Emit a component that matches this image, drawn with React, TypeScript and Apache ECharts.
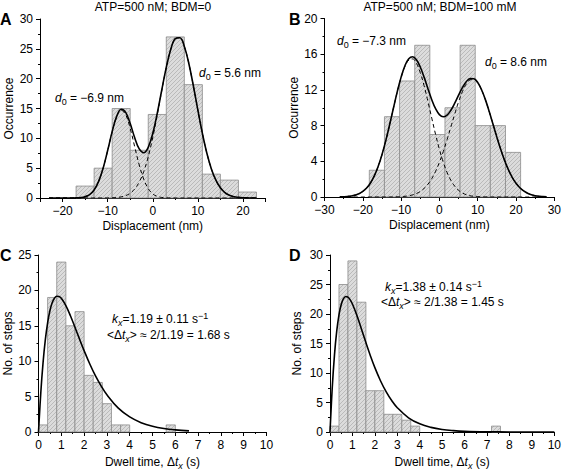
import React, { useEffect, useRef } from 'react';
import * as echarts from 'echarts';

const FONT = '"Liberation Sans", Arial, Helvetica, sans-serif';

// ---------- Panel A data ----------
const aEdges = [-17, -13, -9, -5, -1, 3, 7, 11, 15, 19, 23];
const aCounts = [2, 5, 15, 8, 14, 27, 19, 4, 3, 1];
const aFitX = [-23, -20, -18, -17, -16, -15, -14, -13, -12, -11, -10, -9, -8, -7, -6, -5, -4, -3, -2, -1, 0, 1, 2, 3, 4, 5, 6, 7, 8, 9, 10, 11, 12, 13, 14, 15, 16, 17, 18, 19, 20, 21, 23];
const aFit1 = [0, 0, 0.01, 0.02, 0.07, 0.22, 0.58, 1.35, 2.78, 5.0, 7.94, 11.08, 13.6, 14.69, 13.96, 11.66, 8.58, 5.54, 3.15, 1.58, 0.69, 0.27, 0.09, 0.03, 0.01, 0, 0, 0, 0, 0, 0, 0, 0, 0, 0, 0, 0, 0, 0, 0, 0, 0, 0];
const aFit2 = [0, 0, 0, 0, 0, 0, 0, 0, 0, 0.01, 0.01, 0.04, 0.08, 0.19, 0.4, 0.81, 1.52, 2.68, 4.44, 6.92, 10.13, 13.94, 18.01, 21.86, 24.92, 26.7, 26.87, 25.4, 22.55, 18.81, 14.74, 10.85, 7.5, 4.88, 2.98, 1.71, 0.92, 0.47, 0.22, 0.1, 0.04, 0.02, 0];
const aFitSum = [0, 0, 0.01, 0.02, 0.07, 0.22, 0.58, 1.35, 2.78, 5.01, 7.95, 11.12, 13.68, 14.88, 14.36, 12.47, 10.1, 8.22, 7.59, 8.5, 10.82, 14.21, 18.1, 21.89, 24.93, 26.7, 26.87, 25.4, 22.55, 18.81, 14.74, 10.85, 7.5, 4.88, 2.98, 1.71, 0.92, 0.47, 0.22, 0.1, 0.04, 0.02, 0];

// ---------- Panel B data ----------
const bEdges = [-18.3, -14.35, -10.4, -6.45, -2.5, 1.45, 5.4, 9.35, 13.3, 17.25, 21.2];
const bCounts = [3, 9, 13, 17, 7, 10, 17, 8, 8, 5];
const bFitX = [-26, -25, -24, -23, -22, -21, -20, -19, -18, -17, -16, -15, -14, -13, -12, -11, -10, -9, -8, -7, -6, -5, -4, -3, -2, -1, 0, 1, 2, 3, 4, 5, 6, 7, 8, 9, 10, 11, 12, 13, 14, 15, 16, 17, 18, 19, 20, 21, 22, 23, 24, 25, 26, 27, 28];
const bFit1 = [0.01, 0.03, 0.06, 0.11, 0.21, 0.36, 0.62, 1.0, 1.57, 2.36, 3.41, 4.74, 6.32, 8.09, 9.96, 11.79, 13.39, 14.63, 15.35, 15.47, 14.99, 13.94, 12.47, 10.71, 8.84, 7.01, 5.34, 3.91, 2.75, 1.86, 1.21, 0.75, 0.45, 0.26, 0.14, 0.08, 0.04, 0.02, 0.01, 0, 0, 0, 0, 0, 0, 0, 0, 0, 0, 0, 0, 0, 0, 0, 0];
const bFit2 = [0, 0, 0, 0, 0, 0, 0, 0, 0, 0, 0, 0, 0, 0, 0.01, 0.02, 0.04, 0.08, 0.14, 0.24, 0.39, 0.62, 0.96, 1.43, 2.06, 2.88, 3.89, 5.08, 6.43, 7.86, 9.3, 10.66, 11.8, 12.65, 13.12, 13.17, 12.78, 12.0, 10.9, 9.58, 8.15, 6.71, 5.34, 4.11, 3.06, 2.21, 1.54, 1.04, 0.68, 0.43, 0.26, 0.15, 0.09, 0.05, 0.03];
const bFitSum = [0.01, 0.03, 0.06, 0.11, 0.21, 0.36, 0.62, 1.0, 1.57, 2.36, 3.41, 4.74, 6.32, 8.09, 9.97, 11.81, 13.43, 14.71, 15.49, 15.71, 15.38, 14.56, 13.43, 12.14, 10.9, 9.89, 9.23, 8.99, 9.18, 9.72, 10.51, 11.41, 12.25, 12.91, 13.26, 13.25, 12.82, 12.02, 10.91, 9.58, 8.15, 6.71, 5.34, 4.11, 3.06, 2.21, 1.54, 1.04, 0.68, 0.43, 0.26, 0.15, 0.09, 0.05, 0.03];

// ---------- Panel C data ----------
const cEdges = [0, 0.4, 0.8, 1.2, 1.6, 2.0, 2.4, 2.8, 3.2, 3.6, 4.0, 4.4, 4.8, 5.2, 5.6, 6.0];
const cCounts = [1, 19, 24, 15, 17, 8, 7, 4, 1, 1, 0, 0, 0, 0, 1];
const cFitX = [0, 0.1, 0.2, 0.3, 0.4, 0.5, 0.6, 0.7, 0.8, 0.9, 1.0, 1.2, 1.4, 1.6, 1.8, 2.0, 2.25, 2.5, 2.75, 3.0, 3.5, 4.0, 4.5, 5.0, 5.5, 6.0, 6.6];
const cFitY = [0, 5.51, 9.79, 13.04, 15.43, 17.13, 18.26, 18.9, 19.18, 19.15, 18.88, 17.86, 16.42, 14.8, 13.12, 11.5, 9.6, 7.92, 6.49, 5.25, 3.37, 2.13, 1.32, 0.81, 0.49, 0.3, 0.16];

// ---------- Panel D data ----------
const dEdges = [0, 0.4, 0.8, 1.2, 1.6, 2.0, 2.4, 2.8, 3.2, 3.6, 4.0, 4.4, 4.8, 5.2, 5.6, 6.0, 6.4, 6.8, 7.2, 7.6];
const dCounts = [1, 25, 29, 22, 7, 7, 3, 3, 2, 1, 0, 0, 0, 0, 0, 0, 0, 0, 1];
const dFitX = [0, 0.1, 0.2, 0.3, 0.4, 0.5, 0.6, 0.7, 0.8, 0.9, 1.0, 1.2, 1.4, 1.6, 1.8, 2.0, 2.25, 2.5, 2.75, 3.0, 3.5, 4.0, 4.5, 5.0, 5.5, 6.0, 7.0, 8.0, 9.0, 10.0];
const dFitY = [0, 7.51, 13.08, 17.09, 19.86, 21.62, 22.6, 22.97, 22.87, 22.4, 21.69, 19.74, 17.47, 15.15, 12.94, 10.91, 8.69, 6.84, 5.33, 4.12, 2.41, 1.38, 0.78, 0.43, 0.24, 0.13, 0.04, 0.01, 0, 0];

// ---------- texts ----------
const titleA = 'ATP=500 nM; BDM=0';
const titleB = 'ATP=500 nM; BDM=100 mM';
const panelLabels = ['A', 'B', 'C', 'D'];

const zip = (xs: number[], ys: number[]) => xs.map((x, i) => [x, ys[i]]);
const bins = (edges: number[], counts: number[]) => counts.map((c, i) => [edges[i], edges[i + 1], c]);

const minus = (v: number) => (v < 0 ? '\u2212' + Math.abs(v) : String(v));

function renderHatchBar(params: any, api: any) {
  const y = api.value(2);
  if (!y) return null;
  const p0 = api.coord([api.value(0), y]);
  const p1 = api.coord([api.value(1), 0]);
  const x0 = p0[0], y0 = p0[1], x1 = p1[0], y1 = p1[1];
  const children: any[] = [
    { type: 'rect', shape: { x: x0, y: y0, width: x1 - x0, height: y1 - y0 }, style: { fill: '#dcdcdc' } },
  ];
  const step = 4;
  for (let c = Math.ceil((x0 + y0) / step) * step; c < x1 + y1; c += step) {
    const xa = Math.max(x0, c - y1);
    const xb = Math.min(x1, c - y0);
    if (xb > xa) {
      children.push({ type: 'line', shape: { x1: xa, y1: c - xa, x2: xb, y2: c - xb }, style: { stroke: '#ababab', lineWidth: 0.7 } });
    }
  }
  children.push({ type: 'rect', shape: { x: x0, y: y0, width: x1 - x0, height: y1 - y0 }, style: { fill: 'none', stroke: '#8c8c8c', lineWidth: 0.8 } });
  return { type: 'group', children };
}

const axisCommon = {
  type: 'value',
  axisLine: { show: true, onZero: false, lineStyle: { color: '#000', width: 1 } },
  axisTick: { show: true, inside: false, length: 4, lineStyle: { color: '#000', width: 1 } },
  minorTick: { show: true, splitNumber: 2, length: 2, lineStyle: { color: '#000', width: 1 } },
  splitLine: { show: false },
  minorSplitLine: { show: false },
  nameLocation: 'middle',
};

const labelStyle = { color: '#000', fontSize: 12, fontFamily: FONT };
const nameRich = {
  n: { fontSize: 12, fontFamily: FONT, color: '#000' },
  i: { fontSize: 12, fontFamily: FONT, color: '#000', fontStyle: 'italic' },
  sub: { fontSize: 9, fontFamily: FONT, color: '#000', fontStyle: 'italic', padding: [7, 0, 0, 0] },
};

function xAxis(gridIndex: number, min: number, max: number, name: string, extra: any = {}) {
  return {
    ...axisCommon,
    gridIndex,
    min,
    max,
    name,
    nameGap: 22,
    nameTextStyle: { fontSize: 12, fontFamily: FONT, color: '#000', rich: nameRich },
    axisLabel: { ...labelStyle, margin: 7, formatter: minus },
    ...extra,
  };
}
function yAxis(gridIndex: number, max: number, interval: number, name: string, nameGap: number) {
  return {
    ...axisCommon,
    gridIndex,
    min: 0,
    max,
    interval,
    name,
    nameGap,
    nameTextStyle: { fontSize: 12, fontFamily: FONT, color: '#000' },
    axisLabel: { ...labelStyle, margin: 7 },
  };
}

const textRich = {
  n: { fontSize: 12, fontFamily: FONT, fill: '#000' },
  i: { fontSize: 12, fontFamily: FONT, fill: '#000', fontStyle: 'italic' },
  sub: { fontSize: 9, fontFamily: FONT, fill: '#000', padding: [7, 0, 0, 0] },
  subi: { fontSize: 9, fontFamily: FONT, fill: '#000', fontStyle: 'italic', padding: [7, 0, 0, 0] },
  sup: { fontSize: 9, fontFamily: FONT, fill: '#000', padding: [0, 0, 7, 0] },
};

function txt(x: number, y: number, text: string) {
  return { type: 'text', x, y, z: 10, style: { text, rich: textRich, fontSize: 12, fontFamily: FONT, fill: '#000', verticalAlign: 'middle' } };
}

function fitLine(xi: number, data: number[][], dashed: boolean) {
  return {
    type: 'line',
    xAxisIndex: xi,
    yAxisIndex: xi,
    data,
    smooth: 0.4,
    showSymbol: false,
    symbol: 'none',
    z: dashed ? 3 : 4,
    lineStyle: { color: '#000', width: dashed ? 1 : 1.6, type: dashed ? [4, 3] : 'solid' },
    silent: true,
  };
}

function barSeries(xi: number, data: number[][]) {
  return {
    type: 'custom',
    xAxisIndex: xi,
    yAxisIndex: xi,
    data,
    encode: { x: [0, 1], y: 2 },
    renderItem: renderHatchBar,
    z: 1,
    silent: true,
  };
}

export default function App() {
  const ref = useRef<HTMLDivElement>(null);
  useEffect(() => {
    document.body.style.margin = '0';
    const chart = echarts.init(ref.current!, null, { renderer: 'svg' });
    const option: any = {
      animation: false,
      backgroundColor: '#fff',
      grid: [
        { left: 40, top: 19, width: 225.5, height: 179 },
        { left: 324.5, top: 18.5, width: 230.5, height: 178.5 },
        { left: 38.5, top: 255, width: 228, height: 177 },
        { left: 330, top: 255, width: 227, height: 177 },
      ],
      xAxis: [
        xAxis(0, -25, 25, 'Displacement (nm)', { axisLabel: { ...labelStyle, margin: 7, formatter: minus, showMinLabel: false, showMaxLabel: false } }),
        xAxis(1, -30, 30, 'Displacement (nm)', { interval: 10 }),
        xAxis(2, 0, 10, '{n|Dwell time, Δ}{i|t}{sub|x}{n| (s)}', { interval: 1 }),
        xAxis(3, 0, 10, '{n|Dwell time, Δ}{i|t}{sub|x}{n| (s)}', { interval: 1 }),
      ],
      yAxis: [
        yAxis(0, 30, 5, 'Occurrence', 25),
        yAxis(1, 20, 4, 'Occurrence', 24),
        yAxis(2, 25, 5, 'No. of steps', 22),
        yAxis(3, 30, 5, 'No. of steps', 27),
      ],
      series: [
        barSeries(0, bins(aEdges, aCounts)),
        fitLine(0, zip(aFitX, aFit1), true),
        fitLine(0, zip(aFitX, aFit2), true),
        fitLine(0, zip(aFitX, aFitSum), false),
        barSeries(1, bins(bEdges, bCounts)),
        fitLine(1, zip(bFitX, bFit1), true),
        fitLine(1, zip(bFitX, bFit2), true),
        fitLine(1, zip(bFitX, bFitSum), false),
        barSeries(2, bins(cEdges, cCounts)),
        fitLine(2, zip(cFitX, cFitY), false),
        barSeries(3, bins(dEdges, dCounts)),
        fitLine(3, zip(dFitX, dFitY), false),
      ],
      graphic: [
        { type: 'text', x: 153, y: 7, style: { text: titleA, fontSize: 12, fontFamily: FONT, fill: '#000', align: 'center', verticalAlign: 'middle' } },
        { type: 'text', x: 440, y: 7, style: { text: titleB, fontSize: 12, fontFamily: FONT, fill: '#000', align: 'center', verticalAlign: 'middle' } },
        { type: 'text', x: 0, y: 19, style: { text: panelLabels[0], fontSize: 16, fontWeight: 'bold', fontFamily: FONT, fill: '#000', verticalAlign: 'middle' } },
        { type: 'text', x: 289, y: 19, style: { text: panelLabels[1], fontSize: 16, fontWeight: 'bold', fontFamily: FONT, fill: '#000', verticalAlign: 'middle' } },
        { type: 'text', x: 0, y: 255, style: { text: panelLabels[2], fontSize: 16, fontWeight: 'bold', fontFamily: FONT, fill: '#000', verticalAlign: 'middle' } },
        { type: 'text', x: 289, y: 255, style: { text: panelLabels[3], fontSize: 16, fontWeight: 'bold', fontFamily: FONT, fill: '#000', verticalAlign: 'middle' } },
        txt(55, 98, '{i|d}{sub|0}{n| = \u22126.9 nm}'),
        txt(199, 73, '{i|d}{sub|0}{n| = 5.6 nm}'),
        txt(337, 41, '{i|d}{sub|0}{n| = \u22127.3 nm}'),
        txt(485, 62, '{i|d}{sub|0}{n| = 8.6 nm}'),
        txt(112, 319, '{i|k}{subi|x}{n|=1.19 ± 0.11 s}{sup|\u22121}'),
        txt(107, 335, '{n|<Δ}{i|t}{subi|x}{n|> ≈ 2/1.19 = 1.68 s}'),
        txt(385, 287, '{i|k}{subi|x}{n|=1.38 ± 0.14 s}{sup|\u22121}'),
        txt(381, 302, '{n|<Δ}{i|t}{subi|x}{n|> ≈ 2/1.38 = 1.45 s}'),
      ],
    };
    chart.setOption(option);
    return () => chart.dispose();
  }, []);
  return <div ref={ref} style={{ width: 564, height: 471 }} />;
}
